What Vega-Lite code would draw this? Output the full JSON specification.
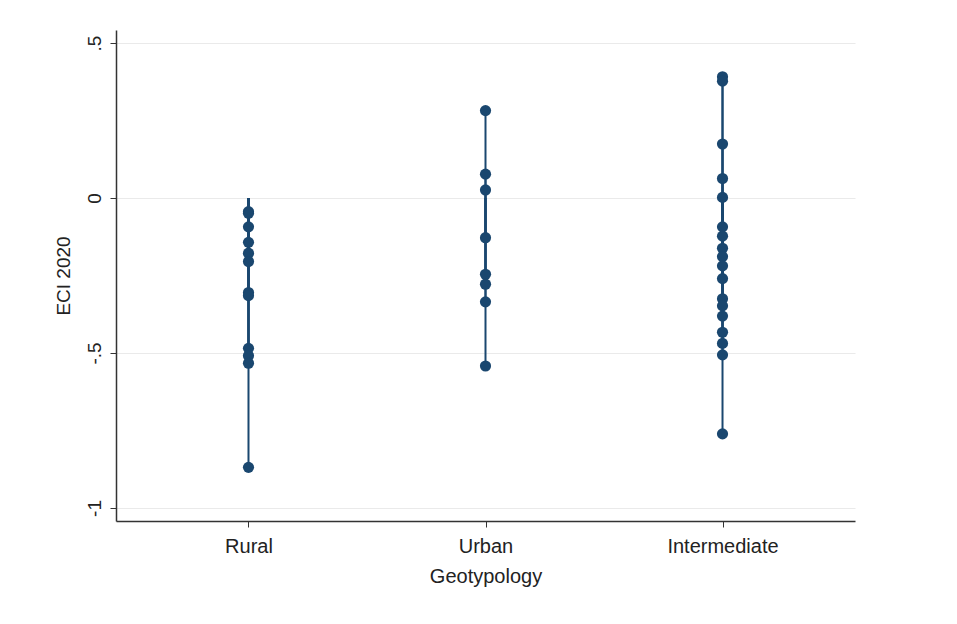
{
  "$schema": "https://vega.github.io/schema/vega-lite/v6.json",
  "autosize": {"type": "none"},
  "width": 739,
  "height": 491,
  "padding": {"left": 116, "top": 30, "right": 102, "bottom": 103},
  "background": "white",
  "config": {
    "view": {"stroke": null},
    "font": "Liberation Sans",
    "axis": {"labelFont": "Liberation Sans", "titleFont": "Liberation Sans", "labelColor": "#222", "titleColor": "#222", "titleFontWeight": "normal"}
  },
  "data": {"values": [
    {"geo": "Rural", "eci": -0.044}, {"geo": "Rural", "eci": -0.049}, {"geo": "Rural", "eci": -0.093},
    {"geo": "Rural", "eci": -0.143}, {"geo": "Rural", "eci": -0.178}, {"geo": "Rural", "eci": -0.205},
    {"geo": "Rural", "eci": -0.305}, {"geo": "Rural", "eci": -0.315}, {"geo": "Rural", "eci": -0.485},
    {"geo": "Rural", "eci": -0.509}, {"geo": "Rural", "eci": -0.533}, {"geo": "Rural", "eci": -0.869},
    {"geo": "Urban", "eci": 0.282}, {"geo": "Urban", "eci": 0.077}, {"geo": "Urban", "eci": 0.026},
    {"geo": "Urban", "eci": -0.128}, {"geo": "Urban", "eci": -0.246}, {"geo": "Urban", "eci": -0.278},
    {"geo": "Urban", "eci": -0.335}, {"geo": "Urban", "eci": -0.542},
    {"geo": "Intermediate", "eci": 0.391}, {"geo": "Intermediate", "eci": 0.377}, {"geo": "Intermediate", "eci": 0.174},
    {"geo": "Intermediate", "eci": 0.063}, {"geo": "Intermediate", "eci": 0.002}, {"geo": "Intermediate", "eci": -0.093},
    {"geo": "Intermediate", "eci": -0.123}, {"geo": "Intermediate", "eci": -0.162}, {"geo": "Intermediate", "eci": -0.189},
    {"geo": "Intermediate", "eci": -0.219}, {"geo": "Intermediate", "eci": -0.260}, {"geo": "Intermediate", "eci": -0.325},
    {"geo": "Intermediate", "eci": -0.348}, {"geo": "Intermediate", "eci": -0.381}, {"geo": "Intermediate", "eci": -0.433},
    {"geo": "Intermediate", "eci": -0.469}, {"geo": "Intermediate", "eci": -0.506}, {"geo": "Intermediate", "eci": -0.761}
  ]},
  "encoding": {
    "x": {
      "field": "geo", "type": "nominal", "sort": ["Rural", "Urban", "Intermediate"],
      "scale": {"type": "point", "padding": 0.559},
      "axis": {"title": "Geotypology", "labelAngle": 0, "labelFontSize": 20, "titleFontSize": 20,
               "tickSize": 6, "tickColor": "#333", "domainColor": "#333", "domainWidth": 1.5,
               "labelPadding": 9, "titlePadding": 10, "grid": false}
    },
    "y": {
      "field": "eci", "type": "quantitative",
      "scale": {"domain": [-1.042, 0.542], "nice": false, "zero": false},
      "axis": {"title": "ECI 2020", "values": [-1, -0.5, 0, 0.5],
               "labelExpr": "datum.value == 0.5 ? '.5' : datum.value == 0 ? '0' : datum.value == -0.5 ? '-.5' : '-1'",
               "labelAngle": -90, "labelAlign": "center", "labelBaseline": "bottom",
               "labelFontSize": 19, "titleFontSize": 19, "labelPadding": 6, "titlePadding": 12,
               "tickSize": 6, "tickColor": "#333", "domainColor": "#333", "domainWidth": 1.5,
               "grid": true, "gridColor": "#eaeaea", "gridWidth": 1.2}
    }
  },
  "layer": [
    {"mark": {"type": "rule", "color": "#1a476f", "strokeWidth": 2}, "encoding": {"y2": {"datum": 0}}},
    {"mark": {"type": "point", "filled": true, "shape": "circle", "size": 125, "color": "#1a476f", "opacity": 1}}
  ]
}
